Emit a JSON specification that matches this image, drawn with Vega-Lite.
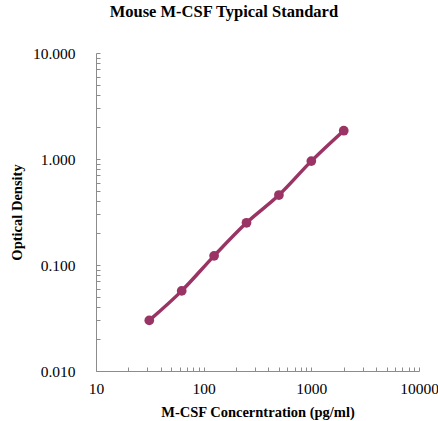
{
  "$schema": "https://vega.github.io/schema/vega-lite/v6.json",
  "width": 323,
  "height": 318,
  "autosize": {"type": "none"},
  "padding": {"left": 96, "top": 53, "right": 19, "bottom": 50},
  "background": "white",
  "title": {
    "text": "Mouse M-CSF Typical Standard",
    "font": "Liberation Serif",
    "fontSize": 16.5,
    "fontWeight": "bold",
    "color": "black",
    "frame": "bounds",
    "anchor": "middle",
    "offset": 26
  },
  "config": {
    "view": {"stroke": null},
    "axis": {
      "labelFont": "Liberation Serif",
      "titleFont": "Liberation Serif",
      "labelFontSize": 15.5,
      "titleFontSize": 14.5,
      "titleFontWeight": "bold",
      "labelColor": "black",
      "titleColor": "black",
      "domainColor": "#8c8c8c",
      "tickColor": "#8c8c8c",
      "grid": false
    }
  },
  "data": {
    "values": [
      {"conc": 31.25, "od": 0.030},
      {"conc": 62.5, "od": 0.057},
      {"conc": 125, "od": 0.122},
      {"conc": 250, "od": 0.250},
      {"conc": 500, "od": 0.457},
      {"conc": 1000, "od": 0.955},
      {"conc": 2000, "od": 1.85}
    ]
  },
  "encoding": {
    "x": {
      "field": "conc",
      "type": "quantitative",
      "scale": {"type": "log", "domain": [10, 10000], "nice": false},
      "axis": {
        "title": "M-CSF Concerntration (pg/ml)",
        "values": [10,20,30,40,50,60,70,80,90,100,200,300,400,500,600,700,800,900,1000,2000,3000,4000,5000,6000,7000,8000,9000,10000],
        "labelExpr": "abs(log(datum.value)/LN10 - round(log(datum.value)/LN10)) < 0.000001 ? format(datum.value, 'd') : ''",
        "tickSize": -4,
        "labelPadding": 14,
        "titlePadding": 9,
        "labelFlush": false,
        "labelOverlap": false
      }
    },
    "y": {
      "field": "od",
      "type": "quantitative",
      "scale": {"type": "log", "domain": [0.01, 10], "nice": false},
      "axis": {
        "title": "Optical Density",
        "values": [0.01,0.02,0.03,0.04,0.05,0.06,0.07,0.08,0.09,0.1,0.2,0.3,0.4,0.5,0.6,0.7,0.8,0.9,1,2,3,4,5,6,7,8,9,10],
        "labelExpr": "abs(log(datum.value)/LN10 - round(log(datum.value)/LN10)) < 0.000001 ? format(datum.value, '.3f') : ''",
        "tickSize": -4,
        "labelPadding": 25,
        "titlePadding": 8,
        "labelFlush": false,
        "labelOverlap": false
      }
    }
  },
  "layer": [
    {
      "mark": {"type": "line", "color": "#9a3465", "strokeWidth": 3.5, "interpolate": "monotone"}
    },
    {
      "mark": {"type": "point", "filled": true, "color": "#9a3465", "opacity": 1, "size": 95}
    }
  ]
}
